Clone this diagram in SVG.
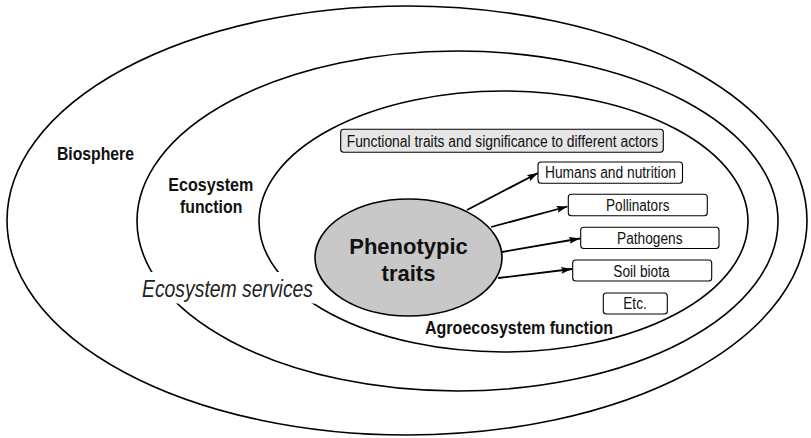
<svg xmlns="http://www.w3.org/2000/svg" width="811" height="438" viewBox="0 0 811 438">
<style>
.ring{fill:none;stroke:#000;stroke-width:1.6}
.box{fill:#fff;stroke:#000;stroke-width:1.1}
.lbl{font-family:"Liberation Sans Narrow","Liberation Sans",Arial,sans-serif;font-size:16px;fill:#111}
.bold{font-family:"Liberation Sans Narrow","Liberation Sans",Arial,sans-serif;font-size:18px;font-weight:bold;fill:#111}
.arrow{stroke:#000;stroke-width:1.8;fill:none;marker-end:url(#ah)}
</style>
<defs>
<marker id="ah" markerUnits="userSpaceOnUse" markerWidth="12" markerHeight="8" refX="11" refY="3.5" orient="auto">
<path d="M0,0 L11,3.5 L0,7 L2,3.5 z" fill="#000"/>
</marker>
</defs>
<rect width="811" height="438" fill="#fff"/>
<g id="biosphere">
<ellipse class="ring" cx="407" cy="220.5" rx="400" ry="214.5"/>
<text class="bold" x="57" y="159.5" textLength="77" lengthAdjust="spacingAndGlyphs">Biosphere</text>
</g>
<g id="ecosystem-function">
<ellipse class="ring" cx="457.5" cy="221" rx="320.5" ry="170"/>
<text class="bold" x="168.3" y="190.7" textLength="85" lengthAdjust="spacingAndGlyphs">Ecosystem</text>
<text class="bold" x="180" y="212.7" textLength="62.3" lengthAdjust="spacingAndGlyphs">function</text>
</g>
<g id="agroecosystem-function">
<ellipse class="ring" cx="503.5" cy="221.5" rx="244.5" ry="130.5"/>
<text class="bold" x="425" y="334.3" textLength="188" lengthAdjust="spacingAndGlyphs">Agroecosystem function</text>
</g>
<g id="ecosystem-services">
<rect x="140" y="272" width="176" height="31.5" fill="#fff"/>
<text x="142" y="296.7" font-family="'Liberation Sans Narrow','Liberation Sans',Arial,sans-serif" font-size="23" font-style="italic" fill="#222" textLength="171" lengthAdjust="spacingAndGlyphs">Ecosystem services</text>
</g>
<g id="functional-traits">
<rect x="340.7" y="129.3" width="322.6" height="23" rx="3" fill="#e6e6e6" stroke="#000" stroke-width="1.1"/>
<text class="lbl" x="346.7" y="146.7" textLength="311.5" lengthAdjust="spacingAndGlyphs">Functional traits and significance to different actors</text>
</g>
<g id="phenotypic-traits">
<ellipse cx="408.5" cy="257.5" rx="93.5" ry="58.5" fill="#c8c8c8" stroke="#000" stroke-width="1.6"/>
<text x="408.5" y="254" text-anchor="middle" font-family="'Liberation Sans',Arial,sans-serif" font-size="22" font-weight="bold" fill="#111">Phenotypic</text>
<text x="408.5" y="281" text-anchor="middle" font-family="'Liberation Sans',Arial,sans-serif" font-size="22" font-weight="bold" fill="#111">traits</text>
</g>
<g id="humans">
<rect class="box" x="538" y="162" width="144.5" height="21.3" rx="3"/>
<text class="lbl" x="545" y="178.3" textLength="131" lengthAdjust="spacingAndGlyphs">Humans and nutrition</text>
</g>
<g id="pollinators">
<rect class="box" x="568.3" y="194.3" width="139" height="21.4" rx="3"/>
<text class="lbl" x="606" y="211" textLength="63.5" lengthAdjust="spacingAndGlyphs">Pollinators</text>
</g>
<g id="pathogens">
<rect class="box" x="580.7" y="227.3" width="138.3" height="21.2" rx="3"/>
<text class="lbl" x="617" y="243.5" textLength="65.5" lengthAdjust="spacingAndGlyphs">Pathogens</text>
</g>
<g id="soil-biota">
<rect class="box" x="572.7" y="260" width="139" height="21" rx="3"/>
<text class="lbl" x="613.3" y="276.5" textLength="56.3" lengthAdjust="spacingAndGlyphs">Soil biota</text>
</g>
<g id="etc">
<rect class="box" x="603.3" y="293" width="64" height="21" rx="3"/>
<text class="lbl" x="623.3" y="309.3" textLength="23.4" lengthAdjust="spacingAndGlyphs">Etc.</text>
</g>
<g id="connectors">
<line class="arrow" x1="467" y1="210" x2="538" y2="173"/>
<line class="arrow" x1="491" y1="227" x2="567.5" y2="206.5"/>
<line class="arrow" x1="502" y1="252" x2="580" y2="238.5"/>
<line class="arrow" x1="498" y1="278" x2="572" y2="269"/>
</g>
</svg>
